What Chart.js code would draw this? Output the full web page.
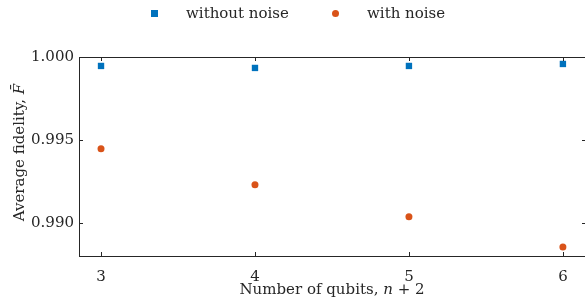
<!DOCTYPE html>
<html>
<head>
<meta charset="utf-8">
<script src="https://cdn.jsdelivr.net/npm/chart.js@4/dist/chart.umd.min.js"></script>
<style>
html,body{margin:0;padding:0;background:#fff;overflow:hidden;}
#wrap{position:relative;width:585px;height:299px;overflow:hidden;}
</style>
</head>
<body>
<div id="wrap"><canvas id="c" width="600" height="299" style="width:600px;height:299px"></canvas></div>
<script>
// ---- data ----
const qubits = [3, 4, 5, 6];
const withoutNoise = [0.99946, 0.99934, 0.99946, 0.99958];
const withNoise = [0.99446, 0.99229, 0.99036, 0.98855];
const xTicks = [3, 4, 5, 6];
const yTicks = [0.990, 0.995, 1.000];
const seriesLabels = ['without noise', 'with noise'];
const xTitle = ['Number of qubits, ', 'n', ' + 2'];
const yTitle = ['Average fidelity, ', 'F\u0304'];

const BLUE = '#0072BD', ORANGE = '#D95319', INK = '#262626';
const FONT = '"DejaVu Serif", serif';
const FS = 15;

const pts = (ys) => qubits.map((q, i) => ({x: q, y: ys[i]}));

const decor = {
  id: 'decor',
  afterDraw(chart) {
    const ctx = chart.ctx, a = chart.chartArea;
    const xs = chart.scales.x, ys = chart.scales.y;
    ctx.save();
    ctx.strokeStyle = INK; ctx.lineWidth = 1;
    ctx.beginPath();
    ctx.moveTo(Math.round(a.left) + 0.5, a.top);
    ctx.lineTo(Math.round(a.left) + 0.5, a.bottom);
    ctx.moveTo(a.left, Math.round(a.top) + 0.5);
    ctx.lineTo(a.right, Math.round(a.top) + 0.5);
    ctx.moveTo(a.left, Math.round(a.bottom) + 0.5);
    ctx.lineTo(a.right, Math.round(a.bottom) + 0.5);
    ctx.moveTo(Math.round(a.right) + 0.5, a.top);
    ctx.lineTo(Math.round(a.right) + 0.5, a.bottom);
    const tl = 4;
    xTicks.forEach(v => {
      const px = Math.round(xs.getPixelForValue(v)) + 0.5;
      ctx.moveTo(px, a.bottom); ctx.lineTo(px, a.bottom - tl);
      ctx.moveTo(px, a.top); ctx.lineTo(px, a.top + tl);
    });
    yTicks.forEach(v => {
      const py = Math.round(ys.getPixelForValue(v)) + 0.5;
      ctx.moveTo(a.left, py); ctx.lineTo(a.left + tl, py);
      ctx.moveTo(a.right, py); ctx.lineTo(a.right - tl, py);
    });
    ctx.stroke();

    ctx.fillStyle = INK;
    ctx.textBaseline = 'middle';
    const roman = FS + 'px ' + FONT, ital = 'italic ' + FS + 'px ' + FONT;
    const cx = (a.left + 585) / 2;
    const parts = [[xTitle[0], roman], [xTitle[1], ital], [xTitle[2], roman]];
    let tot = 0;
    parts.forEach(p => { ctx.font = p[1]; p.push(ctx.measureText(p[0]).width); tot += p[2]; });
    let x0 = cx - tot / 2;
    ctx.textAlign = 'left';
    parts.forEach(p => { ctx.font = p[1]; ctx.fillText(p[0], x0, 290); x0 += p[2]; });
    ctx.save();
    ctx.translate(20, (a.top + a.bottom) / 2 - 4);
    ctx.rotate(-Math.PI / 2);
    ctx.font = roman; const v1 = ctx.measureText(yTitle[0]).width;
    ctx.font = ital; const v2 = ctx.measureText(yTitle[1]).width;
    let y0 = -(v1 + v2) / 2;
    ctx.font = roman; ctx.fillText(yTitle[0], y0, 0);
    ctx.font = ital; ctx.fillText(yTitle[1], y0 + v1, 0);
    ctx.restore();

    ctx.font = roman; ctx.textAlign = 'left';
    ctx.fillStyle = BLUE;
    ctx.fillRect(151, 10, 7, 7);
    ctx.fillStyle = INK;
    ctx.fillText(seriesLabels[0], 186, 14);
    ctx.fillStyle = ORANGE;
    ctx.beginPath(); ctx.arc(335.5, 13.5, 3.5, 0, Math.PI * 2); ctx.fill();
    ctx.fillStyle = INK;
    ctx.fillText(seriesLabels[1], 367, 14);
    ctx.restore();
  }
};

function draw() {
  new Chart(document.getElementById('c'), {
    type: 'scatter',
    data: {
      datasets: [
        {label: seriesLabels[0], data: pts(withoutNoise), pointStyle: 'rect', pointRadius: 4.5,
         backgroundColor: BLUE, borderColor: BLUE, borderWidth: 0, pointHoverRadius: 4.5},
        {label: seriesLabels[1], data: pts(withNoise), pointStyle: 'circle', pointRadius: 3.5,
         backgroundColor: ORANGE, borderColor: ORANGE, borderWidth: 0, pointHoverRadius: 3.5}
      ]
    },
    options: {
      responsive: false,
      animation: false,
      events: [],
      layout: {padding: {top: 57, right: 14, left: 0, bottom: 0}},
      plugins: {legend: {display: false}, tooltip: {enabled: false}},
      scales: {
        x: {
          type: 'linear', min: 2.857, max: 6.15,
          afterBuildTicks: s => { s.ticks = xTicks.map(v => ({value: v})); },
          afterFit: s => { s.height = 43; },
          grid: {display: false, drawTicks: false},
          border: {display: false},
          ticks: {color: INK, font: {family: FONT, size: FS}, padding: 12,
                  callback: v => String(v), maxRotation: 0}
        },
        y: {
          min: 0.988, max: 1.0,
          afterBuildTicks: s => { s.ticks = yTicks.map(v => ({value: v})); },
          afterFit: s => { s.width = 79; },
          grid: {display: false, drawTicks: false},
          border: {display: false},
          ticks: {color: INK, font: {family: FONT, size: FS}, padding: 5,
                  callback: v => v.toFixed(3)}
        }
      }
    },
    plugins: [decor]
  });
}
draw();
</script>
</body>
</html>
